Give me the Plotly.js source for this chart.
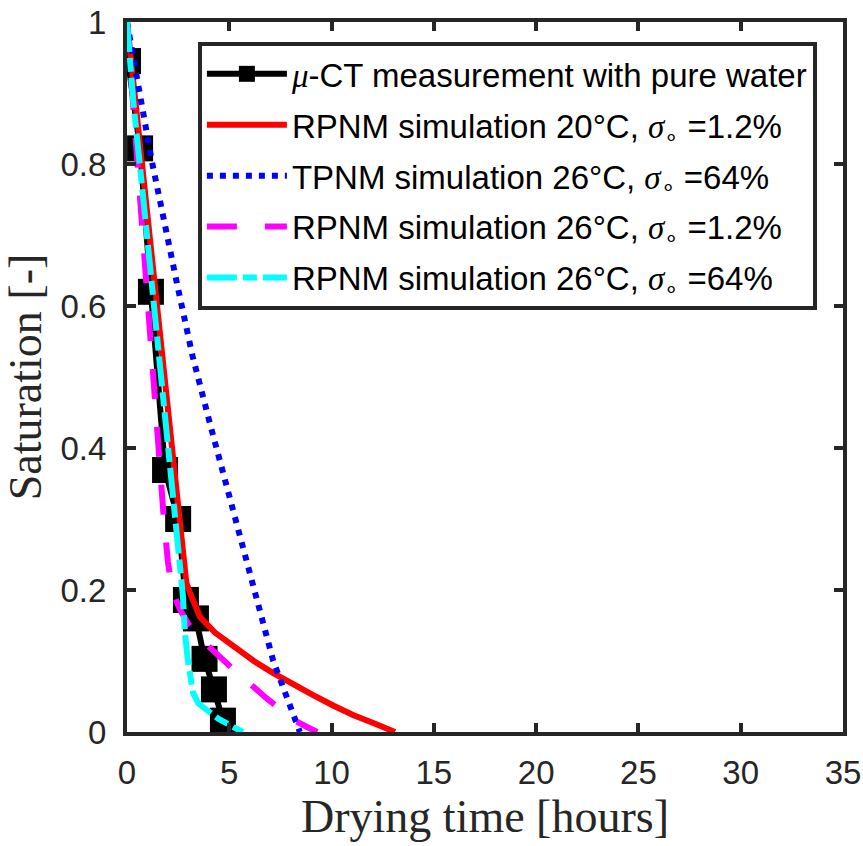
<!DOCTYPE html>
<html><head><meta charset="utf-8">
<script src="https://cdn.plot.ly/plotly-3.0.1.min.js"></script>
<style>html,body{margin:0;padding:0;background:#fff}</style>
</head><body><div id="chart" style="width:863px;height:846px"></div>
<script>
// μ-CT measurement with pure water
const ctTime = [0.05, 0.64, 1.17, 1.86, 2.5, 2.88, 3.37, 3.79, 4.25, 4.69];
const ctSat  = [0.945, 0.822, 0.62, 0.369, 0.30, 0.186, 0.16, 0.103, 0.06, 0.016];
// RPNM 20°C, σ=1.2%
const r20Time = [0, 0.6, 1.0, 1.5, 2.0, 2.5, 2.8, 2.9, 3.08, 3.57, 4.3, 5.2, 6.2, 7.15, 8.1, 9.1, 10.1, 11.05, 12.1, 13.1];
const r20Sat  = [1, 0.835, 0.727, 0.592, 0.455, 0.316, 0.232, 0.21, 0.196, 0.162, 0.14, 0.12, 0.1, 0.083, 0.067, 0.052, 0.037, 0.024, 0.012, 0];
// TPNM 26°C, σ=64%
const t26Time = [0, 0.6, 1.2, 2.44, 3.2, 4.05, 5.0, 6.0, 6.6, 7.15, 7.8, 8.45];
const t26Sat  = [1, 0.9, 0.806, 0.632, 0.53, 0.435, 0.33, 0.224, 0.16, 0.10, 0.05, 0];
// RPNM 26°C, σ=1.2%
const r26aTime = [0, 0.5, 1.0, 1.4, 1.8, 2.0, 2.2, 2.6, 3.0, 3.5, 4.0, 4.6, 5.2, 5.7, 6.2, 6.8, 7.5, 8.2, 8.8, 9.3];
const r26aSat  = [1, 0.8, 0.6, 0.45, 0.3, 0.24, 0.2, 0.172, 0.152, 0.134, 0.12, 0.104, 0.088, 0.076, 0.062, 0.048, 0.032, 0.016, 0.007, 0];
// RPNM 26°C, σ=64%
const r26bTime = [0, 0.3, 0.8, 1.27, 1.86, 2.35, 2.6, 2.73, 2.83, 2.98, 3.23, 3.5, 3.9, 4.5, 5.2, 5.67];
const r26bSat  = [1, 0.89, 0.75, 0.613, 0.449, 0.308, 0.238, 0.193, 0.14, 0.10, 0.055, 0.04, 0.031, 0.018, 0.007, 0];

const xTicks = [0, 5, 10, 15, 20, 25, 30, 35];
const yTicks = [0, 0.2, 0.4, 0.6, 0.8, 1];
const yTickText = ['0', '0.2', '0.4', '0.6', '0.8', '1'];

const sig = '<span style="font-family:\'Liberation Serif\'"><i>σ</i></span><sub>∘</sub>';
const names = [
  '<span style="font-family:\'Liberation Serif\'"><i>μ</i></span>-CT measurement with pure water',
  'RPNM simulation 20°C, ' + sig + ' =1.2%',
  'TPNM simulation 26°C, ' + sig + ' =64%',
  'RPNM simulation 26°C, ' + sig + ' =1.2%',
  'RPNM simulation 26°C, ' + sig + ' =64%'
];

const traces = [
  {x: ctTime, y: ctSat, name: names[0], legendgroup: 'a', mode: 'lines+markers',
   line: {color: '#000000', width: 6}, marker: {symbol: 'square', size: 26, color: '#000000'}},
  {x: r20Time, y: r20Sat, name: names[1], legendgroup: 'b', mode: 'lines',
   line: {color: '#ff0000', width: 6}},
  {x: t26Time, y: t26Sat, name: names[2], legendgroup: 'c', mode: 'lines',
   line: {color: '#0000ff', width: 6, dash: '6px,7px'}},
  {x: r26aTime, y: r26aSat, name: names[3], legendgroup: 'd', mode: 'lines',
   line: {color: '#ff00ff', width: 6, dash: '30px,28px'}},
  {x: r26bTime, y: r26bSat, name: names[4], legendgroup: 'e', mode: 'lines',
   line: {color: '#00ffff', width: 6, dash: '30px,6px,14px,6px'}}
];

const axisCommon = {
  showgrid: false, zeroline: false, showline: true, linecolor: '#262626', linewidth: 4,
  mirror: 'ticks', ticks: 'inside', ticklen: 9, tickwidth: 4, tickcolor: '#262626',
  tickfont: {family: 'Liberation Sans, Arial, sans-serif', size: 33, color: '#262626'}
};

const layout = {
  width: 863, height: 846,
  margin: {l: 127, r: 20, t: 22, b: 114},
  paper_bgcolor: '#ffffff', plot_bgcolor: '#ffffff',
  showlegend: true,
  xaxis: Object.assign({}, axisCommon, {
    range: [0, 35], tickvals: xTicks, ticktext: xTicks.map(String), ticklabelstandoff: 8,
    title: {text: 'Drying time [hours]', standoff: 8,
            font: {family: 'Liberation Serif, Times New Roman, serif', size: 46, color: '#262626'}}
  }),
  yaxis: Object.assign({}, axisCommon, {
    range: [0, 1], tickvals: yTicks, ticktext: yTickText, ticklabelstandoff: 10,
    title: {text: 'Saturation [-]', standoff: 8,
            font: {family: 'Liberation Serif, Times New Roman, serif', size: 46, color: '#262626'}}
  }),
  legend: {
    x: 0.099, y: 0.972, xanchor: 'left', yanchor: 'top',
    bgcolor: '#ffffff', bordercolor: '#262626', borderwidth: 4,
    font: {family: 'Liberation Sans, Arial, sans-serif', size: 33, color: '#000000'},
    traceorder: 'grouped', tracegroupgap: 5, itemwidth: 80
  }
};

Plotly.newPlot('chart', traces, layout, {displayModeBar: false, staticPlot: true});
</script>
</body></html>
